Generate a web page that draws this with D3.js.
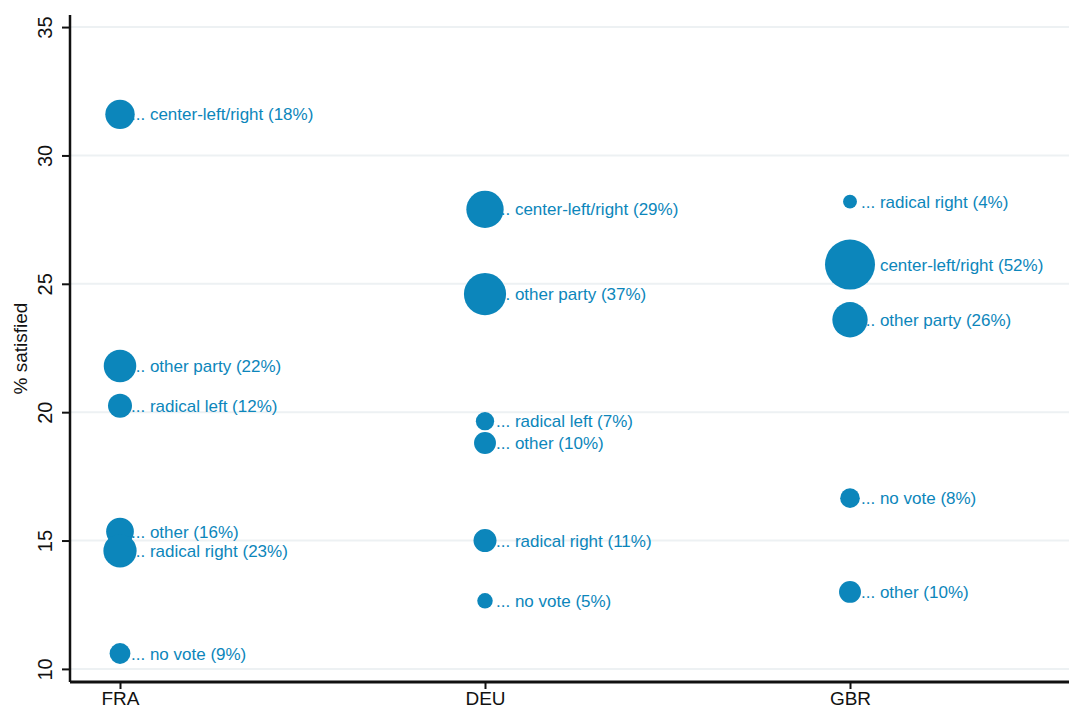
<!DOCTYPE html>
<html>
<head>
<meta charset="utf-8">
<script src="https://cdn.jsdelivr.net/npm/d3@7"></script>
<style>
  html, body { margin: 0; padding: 0; background: #ffffff; }
  svg { display: block; font-family: "Liberation Sans", Arial, Helvetica, sans-serif; }
</style>
</head>
<body>
<svg id="chart" width="1069" height="709"></svg>
<script>
// Share of respondents satisfied, by country and by vote choice.
// Marker area is proportional to the group's share of voters.
const countries = ["FRA", "DEU", "GBR"];

const groupCountry = ["FRA", "FRA", "FRA", "FRA", "FRA", "FRA",
                      "DEU", "DEU", "DEU", "DEU", "DEU", "DEU",
                      "GBR", "GBR", "GBR", "GBR", "GBR"];
const groupName = ["center-left/right", "other party", "radical left", "other", "radical right", "no vote",
                   "center-left/right", "other party", "radical left", "other", "radical right", "no vote",
                   "radical right", "center-left/right", "other party", "no vote", "other"];
const groupShare = [18, 22, 12, 16, 23, 9,
                    29, 37, 7, 10, 11, 5,
                    4, 52, 26, 8, 10];
const pctSatisfied = [31.6, 21.8, 20.25, 15.35, 14.6, 10.6,
                      27.9, 24.6, 19.65, 18.8, 15.0, 12.65,
                      28.2, 25.75, 23.6, 16.65, 13.0];

const yTicks = [10, 15, 20, 25, 30, 35];
const yTitle = "% satisfied";

const points = groupName.map((name, i) => ({
  country: groupCountry[i],
  name: name,
  share: groupShare[i],
  value: pctSatisfied[i]
}));

const svg = d3.select("#chart");
const plot = { left: 70, right: 1069, top: 15, bottom: 682 };

const blue = "#0c86bb";

const x = d3.scalePoint()
  .domain(countries)
  .range([120, 850]);

const y = d3.scaleLinear()
  .domain([9.49, 35.47])
  .range([plot.bottom, plot.top]);

const r = d3.scaleSqrt()
  .domain([0, 52])
  .range([0, 25]);

// horizontal grid lines
svg.append("g")
  .selectAll("line")
  .data(yTicks)
  .join("line")
  .attr("x1", plot.left)
  .attr("x2", plot.right)
  .attr("y1", d => y(d))
  .attr("y2", d => y(d))
  .attr("stroke", "#edf1f3")
  .attr("stroke-width", 2);

// marker labels (drawn under the markers so the leading dots tuck behind them)
svg.append("g")
  .selectAll("text")
  .data(points)
  .join("text")
  .attr("x", d => x(d.country) + 11)
  .attr("y", d => y(d.value))
  .attr("dy", "0.36em")
  .attr("font-size", 17)
  .attr("fill", blue)
  .text(d => `... ${d.name} (${d.share}%)`);

// markers
svg.append("g")
  .selectAll("circle")
  .data(points)
  .join("circle")
  .attr("cx", d => x(d.country))
  .attr("cy", d => y(d.value))
  .attr("r", d => r(d.share))
  .attr("fill", blue);

// y axis
const yAxis = d3.axisLeft(y)
  .tickValues(yTicks)
  .tickSize(8)
  .tickFormat(d3.format("d"));

const gy = svg.append("g")
  .attr("transform", `translate(${plot.left},0)`)
  .call(yAxis);
gy.select(".domain")
  .attr("d", `M0,${plot.top}V${plot.bottom}`)
  .attr("stroke", "#111")
  .attr("stroke-width", 2.5);
gy.selectAll(".tick line").attr("stroke", "#111").attr("stroke-width", 2);
gy.selectAll(".tick text")
  .attr("font-size", 20)
  .attr("font-family", "Liberation Sans, Arial, sans-serif")
  .attr("fill", "#111")
  .attr("x", null)
  .attr("dy", null)
  .attr("text-anchor", "middle")
  .attr("transform", "translate(-18,0) rotate(-90)");

// x axis
const xAxis = d3.axisBottom(x).tickSize(7);
const gx = svg.append("g")
  .attr("transform", `translate(0,${plot.bottom})`)
  .call(xAxis);
gx.select(".domain")
  .attr("d", `M${plot.left},0H${plot.right}`)
  .attr("stroke", "#111")
  .attr("stroke-width", 3);
gx.selectAll(".tick line").attr("stroke", "#111").attr("stroke-width", 2);
gx.selectAll(".tick text")
  .attr("font-size", 19)
  .attr("font-family", "Liberation Sans, Arial, sans-serif")
  .attr("fill", "#111")
  .attr("y", 23)
  .attr("dy", null);

// y axis title
svg.append("text")
  .attr("transform", `translate(27,${(plot.top + plot.bottom) / 2}) rotate(-90)`)
  .attr("text-anchor", "middle")
  .attr("font-size", 19)
  .attr("fill", "#111")
  .text(yTitle);
</script>
</body>
</html>
